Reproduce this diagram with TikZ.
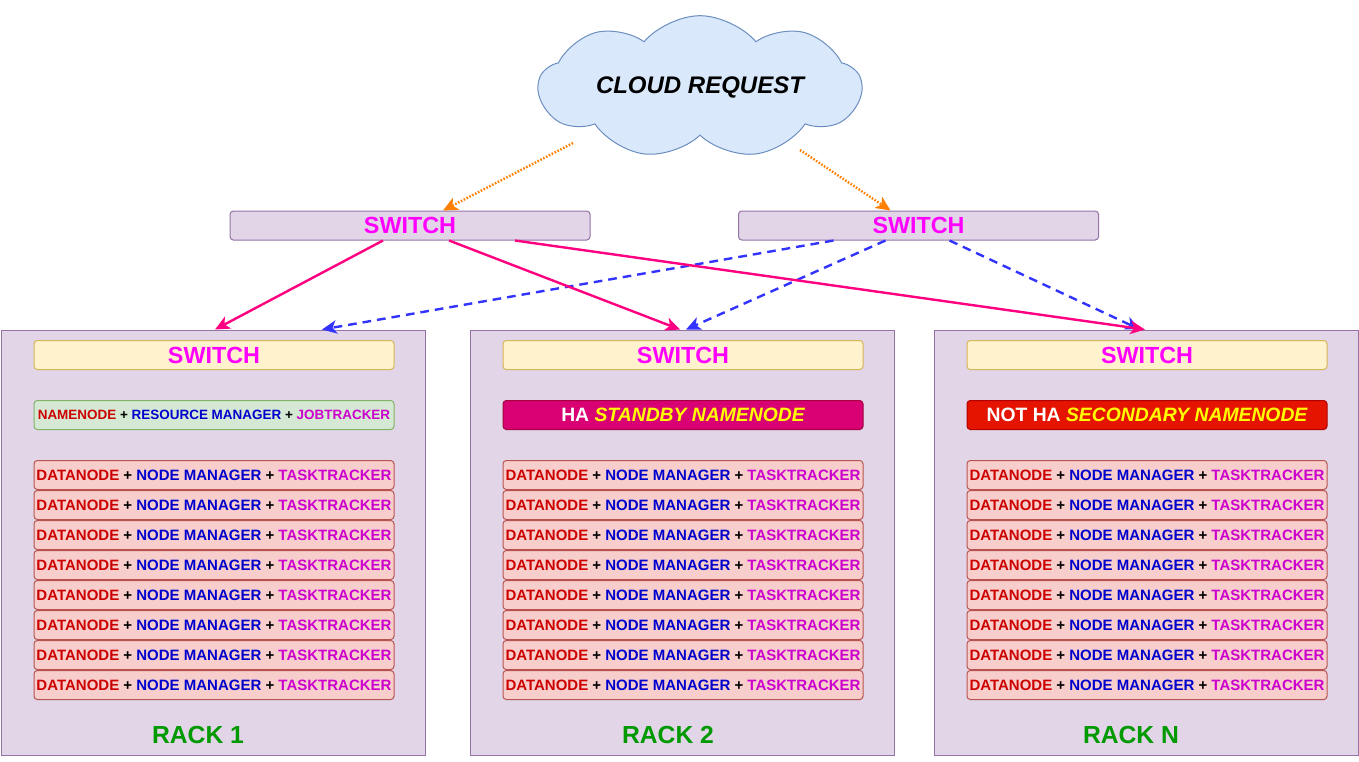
\documentclass[tikz,border=0pt]{standalone}
\usepackage{fontspec}
\setmainfont{Liberation Sans}
\usetikzlibrary{shapes.symbols,arrows.meta,calc}

\definecolor{rackfill}{HTML}{E1D5E7}
\definecolor{rackline}{HTML}{9673A6}
\definecolor{swfill}{HTML}{FFF2CC}
\definecolor{swline}{HTML}{D6B656}
\definecolor{nnfill}{HTML}{D5E8D4}
\definecolor{nnline}{HTML}{82B366}
\definecolor{dnfill}{HTML}{F8CECC}
\definecolor{dnline}{HTML}{B85450}
\definecolor{hafill}{HTML}{D80073}
\definecolor{haline}{HTML}{A50040}
\definecolor{nhafill}{HTML}{E51400}
\definecolor{nhaline}{HTML}{B20000}
\definecolor{cloudfill}{HTML}{DAE8FC}
\definecolor{cloudline}{HTML}{6C8EBF}
\definecolor{swtext}{HTML}{FF00FF}
\definecolor{racktext}{HTML}{009900}
\definecolor{dnred}{HTML}{CC0000}
\definecolor{nmblue}{HTML}{0000CC}
\definecolor{ttpurple}{HTML}{CC00CC}
\definecolor{nameyellow}{HTML}{FFFF00}
\definecolor{pinkline}{HTML}{FF0080}
\definecolor{blueline}{HTML}{3333FF}
\definecolor{orangeline}{HTML}{FF8000}

\newcommand{\workertext}{\textcolor{dnred}{DATANODE} + \textcolor{nmblue}{NODE MANAGER} + \textcolor{ttpurple}{TASKTRACKER}}
\newcommand{\mastertext}{\textcolor{dnred}{NAMENODE} + \textcolor{nmblue}{RESOURCE MANAGER} + \textcolor{ttpurple}{JOBTRACKER}}

\begin{document}
\begin{tikzpicture}[x=0.75pt,y=-0.75pt,
    box/.style={rounded corners=2.5pt, line width=0.75pt, inner sep=1pt,
      minimum width=270pt, minimum height=21.75pt},
    rackbox/.style={draw=rackline, fill=rackfill, line width=0.75pt,
      minimum width=318pt, minimum height=318.75pt},
    topswitch/.style={box, draw=rackline, fill=rackfill, text=swtext,
      font=\bfseries\fontsize{17.5}{20}\selectfont},
    switchbox/.style={box, draw=swline, fill=swfill, text=swtext,
      font=\bfseries\fontsize{17.5}{20}\selectfont},
    masterbox/.style={box, draw=nnline, fill=nnfill, font=\bfseries\fontsize{10.1}{12}\selectfont},
    workerbox/.style={box, draw=dnline, fill=dnfill, font=\bfseries\fontsize{11.25}{13}\selectfont},
    standbybox/.style={box, draw=haline, fill=hafill, text=white,
      font=\bfseries\fontsize{14.5}{17}\selectfont},
    racklabel/.style={text=racktext, font=\bfseries\fontsize{18.5}{21}\selectfont},
    pinkarrow/.style={draw=pinkline, line width=1.8pt, -{Stealth[length=11pt,width=10pt,inset=3pt]}},
    bluearrow/.style={draw=blueline, line width=1.8pt, dash pattern=on 6.5pt off 4.5pt,
      -{Stealth[length=11pt,width=10pt,inset=3pt]}},
    orangearrow/.style={draw=orangeline, line width=1.8pt, dash pattern=on 1.2pt off 1.2pt,
      -{Stealth[length=11pt,width=10pt,inset=3pt]}}]
  \useasboundingbox[fill=white] (0,0) rectangle (1359,761);

  % cloud and top switches
  \node[cloud, cloud puffs=9, cloud puff arc=100, aspect=3.0, inner sep=2pt, minimum width=242pt,
    fill=cloudfill, draw=cloudline, line width=0.75pt,
    font=\bfseries\itshape\fontsize{18}{20}\selectfont] (cloud) at (700,87) {CLOUD REQUEST};
  \node[topswitch] (swL) at (410,225.5) {SWITCH};
  \node[topswitch] (swR) at (918.5,225.5) {SWITCH};

  % rack 1
  \node[rackbox] (rack1) at (213,542.5) {};
  \node[switchbox] (sw1) at (214,355) {SWITCH};
  \node[masterbox] (nn1) at (214,415) {\mastertext};
  \foreach \i in {0,...,7}
    \node[workerbox] (dn1\i) at (214,{475+30*\i}) {\workertext};
  \node[racklabel] (lab1) at (198,735) {RACK 1};

  % rack 2
  \node[rackbox] (rack2) at (682,542.5) {};
  \node[switchbox] (sw2) at (683,355) {SWITCH};
  \node[standbybox] (nn2) at (683,415) {HA \textcolor{nameyellow}{\itshape STANDBY NAMENODE}};
  \foreach \i in {0,...,7}
    \node[workerbox] (dn2\i) at (683,{475+30*\i}) {\workertext};
  \node[racklabel] (lab2) at (668,735) {RACK 2};

  % rack N
  \node[rackbox] (rackN) at (1146,542.5) {};
  \node[switchbox] (swN) at (1147,355) {SWITCH};
  \node[standbybox, draw=nhaline, fill=nhafill] (nnN) at (1147,415)
    {NOT HA \textcolor{nameyellow}{\itshape SECONDARY NAMENODE}};
  \foreach \i in {0,...,7}
    \node[workerbox] (dnN\i) at (1147,{475+30*\i}) {\workertext};
  \node[racklabel] (labN) at (1131,735) {RACK N};

  % connectors
  \draw[orangearrow] ($(cloud.center)+(-127,56)$) -- ($(swL.north)+(33,0)$);
  \draw[orangearrow] ($(cloud.center)+(100,63)$) -- ($(swR.north)+(-28,0)$);
  \draw[bluearrow] ($(swR.south)+(-85,0)$) -- ($(rack1.north)+(109,0)$);
  \draw[bluearrow] ($(swR.south)+(-33,0)$) -- ($(rack2.north)+(4,0)$);
  \draw[bluearrow] ($(swR.south)+(31,0)$) -- ($(rackN.north)+(-6,0)$);
  \draw[pinkarrow] ($(swL.south)+(-27,0)$) -- ($(rack1.north)+(2,0)$);
  \draw[pinkarrow] ($(swL.south)+(39,0)$) -- ($(rack2.north)+(-2,0)$);
  \draw[pinkarrow] ($(swL.south)+(105,0)$) -- ($(rackN.north)+(-1,0)$);
\end{tikzpicture}
\end{document}
